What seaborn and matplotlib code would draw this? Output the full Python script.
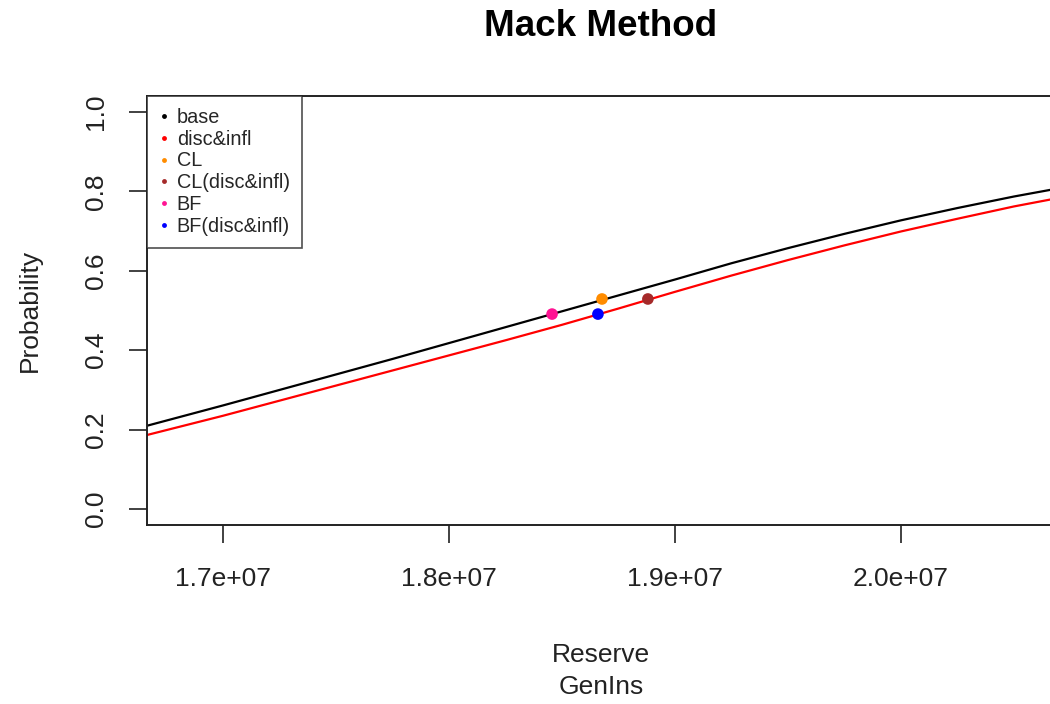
import numpy as np
import pandas as pd
import seaborn as sns
import matplotlib
matplotlib.use('Agg')
import matplotlib.pyplot as plt
from matplotlib.lines import Line2D
from matplotlib.ticker import FuncFormatter

# values
reserve = [1.650e7, 1.675e7, 1.700e7, 1.725e7, 1.750e7, 1.775e7, 1.800e7, 1.825e7,
           1.850e7, 1.875e7, 1.900e7, 1.925e7, 1.950e7, 1.975e7, 2.000e7, 2.025e7,
           2.050e7, 2.075e7, 2.100e7]
prob_base = [0.185, 0.223, 0.261, 0.300, 0.339, 0.378, 0.418, 0.458, 0.498, 0.538,
             0.578, 0.619, 0.657, 0.693, 0.727, 0.758, 0.787, 0.813, 0.838]
prob_disc = [0.163, 0.199, 0.235, 0.273, 0.311, 0.349, 0.387, 0.425, 0.464, 0.505,
             0.547, 0.588, 0.627, 0.664, 0.699, 0.731, 0.762, 0.789, 0.815]

point_names = ['CL', 'CL(disc&infl)', 'BF', 'BF(disc&infl)']
point_reserve = [1.8677e7, 1.8880e7, 1.8456e7, 1.8659e7]
point_prob = [0.529, 0.529, 0.491, 0.491]

legend_names = ['base', 'disc&infl', 'CL', 'CL(disc&infl)', 'BF', 'BF(disc&infl)']
legend_colors = ['black', 'red', 'darkorange', 'brown', 'deeppink', 'blue']

xticks = [1.7e7, 1.8e7, 1.9e7, 2.0e7]
yticks = [0.0, 0.2, 0.4, 0.6, 0.8, 1.0]

sns.set_style('white')
plt.rcParams['font.family'] = ['Liberation Sans', 'DejaVu Sans']

curves = pd.DataFrame({'Reserve': reserve * 2,
                       'Probability': prob_base + prob_disc,
                       'series': ['base'] * len(reserve) + ['disc&infl'] * len(reserve)})
points = pd.DataFrame({'Reserve': point_reserve, 'Probability': point_prob, 'name': point_names})

fig = plt.figure(figsize=(10.5, 7.04), dpi=100)
ax = fig.add_axes([147 / 1050, 1 - 525 / 704, 903 / 1050, 429 / 704])

sns.lineplot(data=curves, x='Reserve', y='Probability', hue='series',
             palette={'base': 'black', 'disc&infl': 'red'}, linewidth=1.6,
             legend=False, ax=ax)
sns.scatterplot(data=points, x='Reserve', y='Probability', hue='name',
                palette=dict(zip(legend_names, legend_colors)), s=70,
                edgecolor='none', legend=False, ax=ax, zorder=3)

ax.set_xlim(1.66637e7, 2.06593e7)
ax.set_ylim(-0.04, 1.04)
ax.set_xticks(xticks)
ax.set_yticks(yticks)
ax.xaxis.set_major_formatter(FuncFormatter(lambda v, p: '%.1fe+07' % (v / 1e7)))
ax.yaxis.set_major_formatter(FuncFormatter(lambda v, p: '%.1f' % v))
ax.tick_params(axis='both', direction='out', length=13, width=1.3, color='#333333',
               labelsize=19, labelcolor='#222222', bottom=True, left=True)
ax.tick_params(axis='x', pad=17.5)
ax.tick_params(axis='y', pad=15)
for lab in ax.get_yticklabels():
    lab.set_rotation(90)
    lab.set_va('center')

for side in ['left', 'bottom', 'top']:
    ax.spines[side].set_color('#222222')
    ax.spines[side].set_linewidth(1.4)
ax.spines['right'].set_visible(False)

ax.set_xlabel('Reserve\nGenIns', fontsize=19, color='#222222', linespacing=1.47)
ax.xaxis.set_label_coords(0.503, -0.274)
ax.set_ylabel('Probability', fontsize=19, color='#222222')
ax.yaxis.set_label_coords(-0.116, 0.501)

fig.text(601 / 1050, 1 - 26 / 704, 'Mack Method', ha='center', va='center',
         fontsize=26.5, fontweight='bold', color='black')

handles = [Line2D([], [], linestyle='none', marker='o', markersize=3.5,
                  markerfacecolor=c, markeredgecolor='none') for c in legend_colors]
leg = ax.legend(handles, legend_names, loc='upper left', borderaxespad=0,
                fontsize=14.3, frameon=True, fancybox=False, handlelength=0.5,
                handletextpad=0.4, labelspacing=0.14, borderpad=0.6)
leg.get_frame().set_edgecolor('#222222')
leg.get_frame().set_linewidth(1.2)

fig.savefig('out.png', dpi=100)
